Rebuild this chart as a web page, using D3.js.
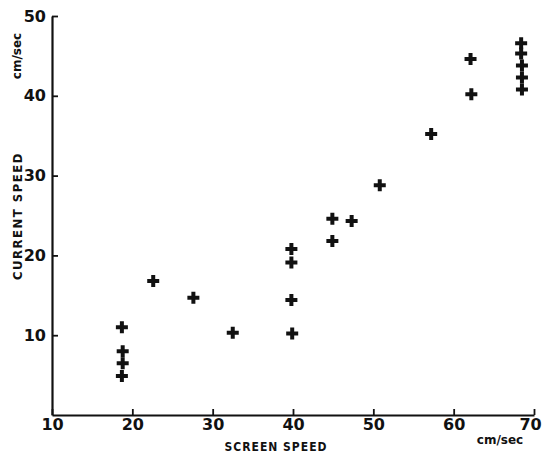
<!DOCTYPE html>
<html>
<head>
<meta charset="utf-8">
<script src="https://cdn.jsdelivr.net/npm/d3@7"></script>
<style>
  body { margin: 0; background: #fff; }
  svg text { font-family: "DejaVu Sans", sans-serif; fill: #111; }
</style>
</head>
<body>
<div id="chart"></div>
<script>
// screen speed (cm/sec) vs current speed (cm/sec)
const screenSpeed = [18.7, 18.8, 18.8, 18.7, 22.6, 27.6, 32.5, 39.8, 39.8, 39.8, 39.9,
  44.9, 44.9, 47.3, 50.8, 57.2, 62.1, 62.2, 68.4, 68.4, 68.5, 68.5, 68.5];
const currentSpeed = [11.0, 8.0, 6.5, 4.9, 16.8, 14.7, 10.3, 20.8, 19.1, 14.4, 10.2,
  24.6, 21.8, 24.3, 28.8, 35.2, 44.6, 40.2, 46.6, 45.3, 43.8, 42.3, 40.8];
const xTicks = [10, 20, 30, 40, 50, 60, 70];
const yTicks = [10, 20, 30, 40, 50];

const width = 544, height = 457;

const svg = d3.select('#chart')
  .append('svg')
  .attr('width', width)
  .attr('height', height);

const x = d3.scaleLinear().domain([10, 70]).range([52, 534]);
const y = d3.scaleLinear().domain([0, 50]).range([415, 16]);

// x axis: line with ticks pointing up
const xAxis = svg.append('g')
  .attr('transform', `translate(0,${y(0)})`)
  .call(d3.axisBottom(x).tickValues(xTicks).tickSizeInner(-6).tickSizeOuter(0).tickPadding(4));
xAxis.select('.domain').attr('stroke', '#111').attr('stroke-width', 2.2);
xAxis.selectAll('.tick line').attr('stroke', '#111').attr('stroke-width', 1.8);
xAxis.selectAll('.tick text')
  .attr('font-size', 16)
  .attr('font-weight', 'bold')
  .attr('fill', '#111')
  .style('font-family', '"DejaVu Sans", sans-serif');
// last label sits at the page edge, nudge it inside
xAxis.selectAll('.tick text').filter(d => d === 70).attr('dx', -4);

// y axis: line with ticks pointing right
const yAxis = svg.append('g')
  .attr('transform', `translate(${x(10)},0)`)
  .call(d3.axisLeft(y).tickValues(yTicks).tickSizeInner(-6).tickSizeOuter(0).tickPadding(6));
yAxis.select('.domain').attr('stroke', '#111').attr('stroke-width', 2.2);
yAxis.selectAll('.tick line').attr('stroke', '#111').attr('stroke-width', 1.8);
yAxis.selectAll('.tick text')
  .attr('font-size', 16)
  .attr('font-weight', 'bold')
  .attr('fill', '#111')
  .style('font-family', '"DejaVu Sans", sans-serif');

// axis titles
svg.append('text')
  .attr('x', 276)
  .attr('y', 451)
  .attr('text-anchor', 'middle')
  .attr('font-size', 12)
  .attr('font-weight', 'bold')
  .style('font-family', '"DejaVu Sans Condensed", "DejaVu Sans", sans-serif')
  .attr('letter-spacing', 1)
  .text('SCREEN SPEED');

svg.append('text')
  .attr('x', 500)
  .attr('y', 444)
  .attr('text-anchor', 'middle')
  .attr('font-size', 12)
  .attr('font-weight', 'bold')
  .text('cm/sec');

svg.append('text')
  .attr('transform', 'translate(22,216) rotate(-90)')
  .attr('text-anchor', 'middle')
  .attr('font-size', 13)
  .attr('font-weight', 'bold')
  .style('font-family', '"DejaVu Sans Condensed", "DejaVu Sans", sans-serif')
  .attr('letter-spacing', 1.5)
  .text('CURRENT SPEED');

svg.append('text')
  .attr('transform', 'translate(21,56) rotate(-90)')
  .attr('text-anchor', 'middle')
  .attr('font-size', 12)
  .attr('font-weight', 'bold')
  .text('cm/sec');

// plus markers
const cross = d3.symbol().type(d3.symbolCross).size(80);
svg.append('g')
  .selectAll('path')
  .data(screenSpeed.map((v, i) => [v, currentSpeed[i]]))
  .enter().append('path')
  .attr('d', cross)
  .attr('transform', d => `translate(${x(d[0])},${y(d[1])})`)
  .attr('fill', '#111');
</script>
</body>
</html>
